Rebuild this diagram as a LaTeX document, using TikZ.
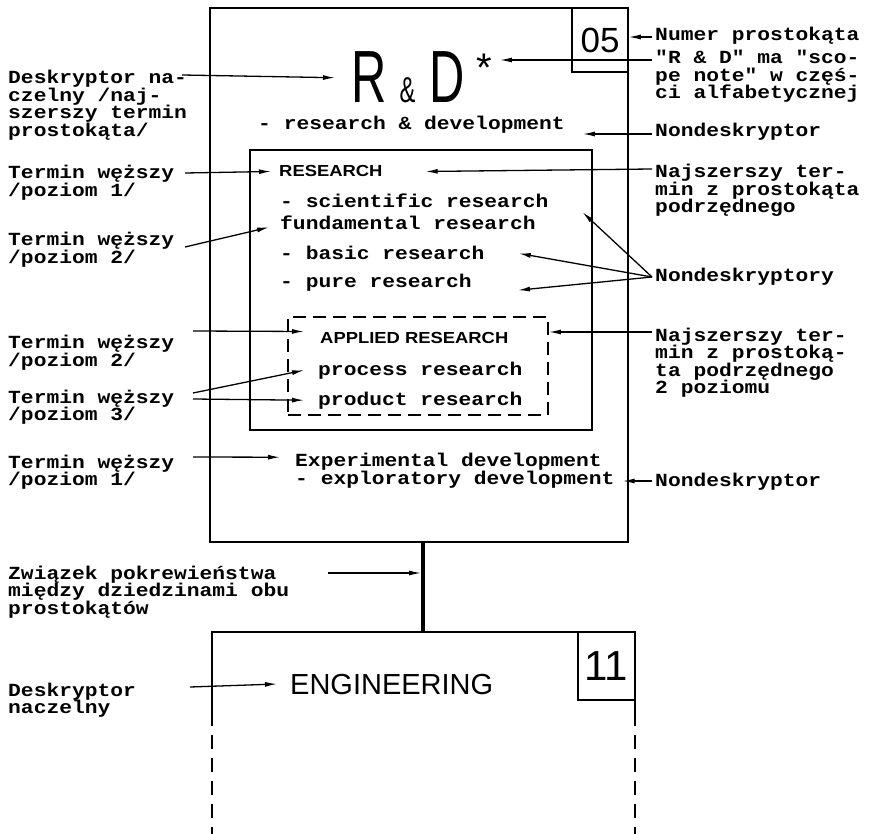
\documentclass[tikz,border=0pt]{standalone}
\usepackage{fontspec}
\setsansfont{Liberation Sans}
\setmonofont{Liberation Mono}
\usetikzlibrary{arrows.meta,positioning}

\newcommand\labfont{\ttfamily\bfseries\fontsize{18.5pt}{17.5pt}\selectfont\lineskiplimit=-30pt\relax}
\newcommand\capsfont{\sffamily\bfseries\fontsize{16pt}{18pt}\selectfont}

\begin{document}
\begin{tikzpicture}[
  x=1pt,y=-1pt,
  >={Latex[length=12pt,width=5pt]},
  lab/.style={font=\labfont,align=left,anchor=base west,inner sep=0pt,xscale=1.15},
  txt/.style={font=\labfont,anchor=base west,inner sep=0pt,xscale=1.15},
  upper/.style={font=\capsfont,anchor=base west,inner sep=0pt,xscale=1.15},
  big/.style={anchor=base west,inner sep=0pt},
  rbox/.style={draw,line width=1.8pt,inner sep=0pt},
  numbox/.style={draw,line width=1.5pt,inner sep=0pt},
  arc/.style={->,line width=1.3pt},
  link/.style={line width=4.5pt}
]
\useasboundingbox (0,0) rectangle (870,834);

% frames
\node[rbox,minimum width=418pt,minimum height=534pt] (rdbox) at (419,275) {};
\node[rbox,minimum width=342pt,minimum height=280pt] (resbox) at (421,290) {};
\node[rbox,dash pattern=on 13pt off 7pt,minimum width=260pt,minimum height=98pt] (appbox) at (418,366) {};
\node[numbox,minimum width=56pt,minimum height=64pt,font=\sffamily\fontsize{35pt}{35pt}\selectfont] (n05) at (600,40) {05};

\coordinate (engtop) at (423,632);
\draw[line width=1.8pt] (212,712) -- (212,632) -- (635,632) -- (635,712);
\draw[line width=1.8pt,dash pattern=on 14pt off 9pt] (212,712) -- (212,834) (635,712) -- (635,834);
\node[numbox,minimum width=57pt,minimum height=68pt,font=\sffamily\fontsize{42pt}{42pt}\selectfont] (n11) at (606.5,666) {11};
\draw[link] (rdbox.south -| engtop) -- (engtop);

% terms
\node[big,font=\sffamily\fontsize{74pt}{74pt}\selectfont,xscale=.66] (rd) at (351,103)
  {R\hspace{20pt}{\fontsize{36pt}{36pt}\selectfont\&}\hspace{22pt}D};
\node[anchor=base,inner sep=0pt,font=\sffamily\fontsize{40pt}{40pt}\selectfont] (ast) at (484,82) {*};
\node[txt] (rdnd) at (258,130) {- research \& development};
\node[upper] (research) at (279,177) {RESEARCH};
\node[txt] (sci) at (280,208) {- scientific research};
\node[txt] (fund) at (280,230) {fundamental research};
\node[txt] (basic) at (280,260) {- basic research};
\node[txt] (pure) at (280,288) {- pure research};
\node[upper] (applied) at (320,343) {APPLIED RESEARCH};
\node[txt] (process) at (318,375) {process research};
\node[txt] (product) at (318,405) {product research};
\node[txt] (exp) at (295,466) {Experimental development};
\node[txt] (expl) at (295,484) {- exploratory development};
\node[big,font=\sffamily\fontsize{29pt}{29pt}\selectfont] (eng) at (290,694) {ENGINEERING};

% labels left (base = last line)
\node[lab] (ldesk) at (8,136.5) {Deskryptor na-\\czelny /naj-\\szerszy termin\\prostokąta/};
\node[lab] (lres) at (8,196.5) {Termin węższy\\/poziom 1/};
\node[lab] (lfund) at (8,263.5) {Termin węższy\\/poziom 2/};
\node[lab] (lapp) at (8,366.5) {Termin węższy\\/poziom 2/};
\node[lab] (lproc) at (8,420.5) {Termin węższy\\/poziom 3/};
\node[lab] (lexp) at (8,485.5) {Termin węższy\\/poziom 1/};
\node[lab] (llink) at (8,614) {Związek pokrewieństwa\\między dziedzinami obu\\prostokątów};
\node[lab] (leng) at (8,713.5) {Deskryptor\\naczelny};

% labels right
\node[lab] (rnum) at (655,41) {Numer prostokąta};
\node[lab] (rnote) at (655,99) {"R \& D" ma "sco-\\pe note" w częś-\\ci alfabetycznej};
\node[lab] (rnd) at (655,137) {Nondeskryptor};
\node[lab] (rtop) at (655,213) {Najszerszy ter-\\min z prostokąta\\podrzędnego};
\node[lab] (rnds) at (655,282) {Nondeskryptory};
\node[lab] (rtop2) at (655,393.5) {Najszerszy ter-\\min z prostoką-\\ta podrzędnego\\2 poziomu};
\node[lab] (rnd2) at (655,486) {Nondeskryptor};

% arrow starts
\coordinate (s1) at (182,75);
\coordinate (s2) at (185,173);
\coordinate (s3) at (185,247);
\coordinate (s4) at (193,331);
\coordinate (s5) at (193,393);
\coordinate (s6) at (193,399);
\coordinate (s7) at (193,457);
\coordinate (s8) at (328,573);
\coordinate (s9) at (190,687);
\coordinate (t1) at (652,37);
\coordinate (t2) at (652,60);
\coordinate (t3) at (652,134);
\coordinate (t4) at (652,169);
\coordinate (t5) at (652,277);
\coordinate (t6) at (652,332);
\coordinate (t7) at (652,481);

\draw[arc] (s1) -- ([xshift=-16pt]rd.west);
\draw[arc] (s2) -- ([xshift=-8pt]research.west);
\draw[arc] (s3) -- ([xshift=-11pt,yshift=-4pt]fund.west);
\draw[arc] (s4) -- ([xshift=-16pt,yshift=6pt]applied.west);
\draw[arc] (s5) -- ([xshift=-14pt]process.west);
\draw[arc] (s6) -- ([xshift=-14pt]product.west);
\draw[arc] (s7) -- ([xshift=-15pt,yshift=4pt]exp.west);
\draw[arc,shorten >=2pt] (s8) -- (s8 -| engtop);
\draw[arc] (s9) -- ([xshift=-13pt]eng.west);

\draw[arc] (t1) -- (t1 -| n05.east);
\draw[arc] (t2) -- ([xshift=8pt]t2 -| ast.east);
\draw[arc] (t3) -- ([xshift=18pt]t3 -| rdnd.east);
\draw[arc] (t4) -- ([xshift=43pt]research.east);
\draw[arc] (t5) -- ([xshift=34pt,yshift=-11pt]sci.east);
\draw[arc] (t5) -- ([xshift=34pt]basic.east);
\draw[arc] (t5) -- ([xshift=46pt,yshift=-7pt]pure.east);
\draw[arc] (t6) -- (t6 -| appbox.east);
\draw[arc] (t7) -- ([xshift=8pt]t7 -| expl.east);
\end{tikzpicture}
\end{document}
